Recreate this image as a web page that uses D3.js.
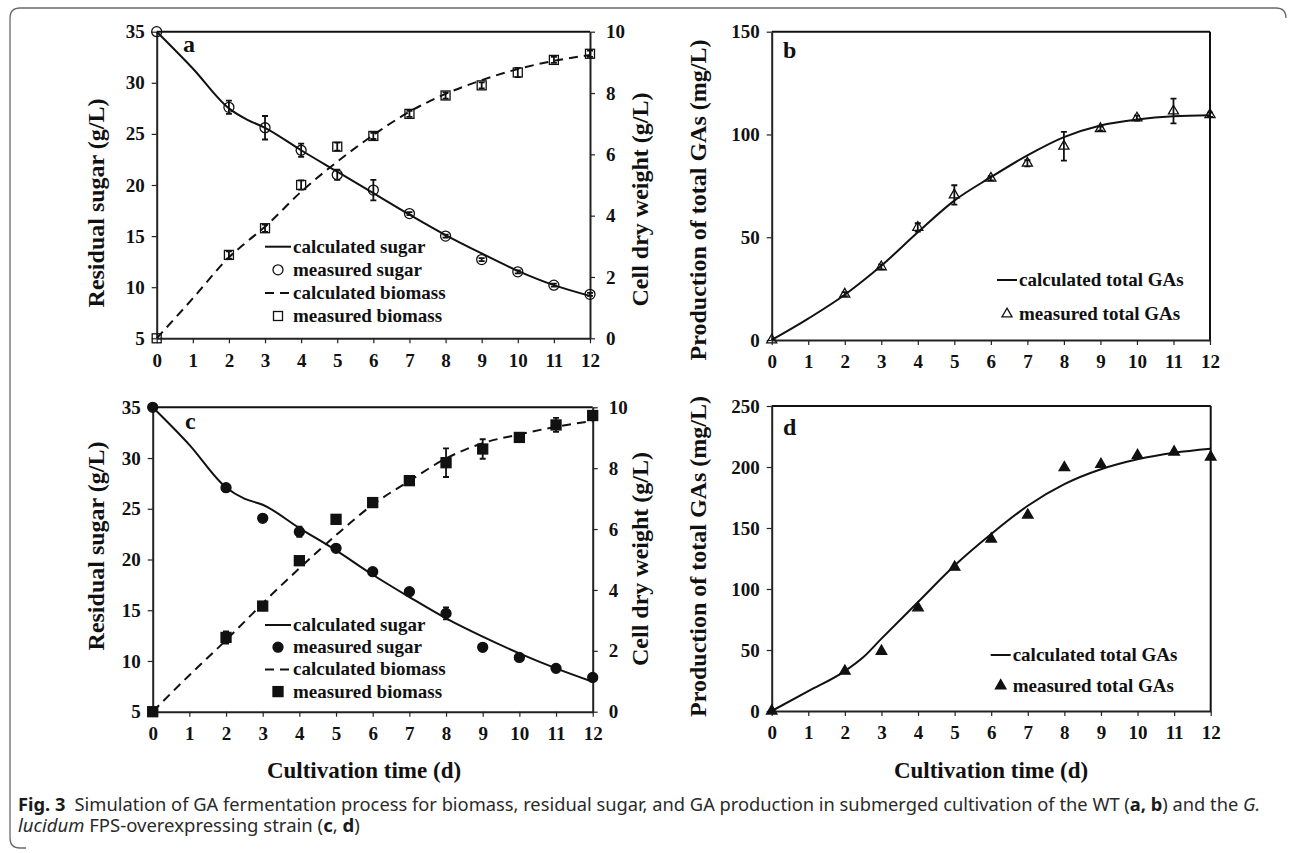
<!DOCTYPE html>
<html>
<head>
<meta charset="utf-8">
<script src="https://cdn.jsdelivr.net/npm/d3@7"></script>
<style>
body { margin: 0; background: #fff; }
svg text { font-family: "Liberation Serif", "Times New Roman", serif; font-weight: bold; fill: #111; }
svg .tick text { font-size: 19px; }
svg .cap text { font-family: "Noto Sans", "Open Sans", sans-serif; font-weight: normal; fill: #2a2a2a; font-size: 17.5px; }
</style>
</head>
<body>
<svg id="fig"></svg>
<script>
// sampling days
const days = [0, 2, 3, 4, 5, 6, 7, 8, 9, 10, 11, 12]
const fitDays = [0, 1, 2, 2.5, 3, 4, 5, 6, 7, 8, 9, 10, 11, 12]
const dayTicks = [0, 1, 2, 3, 4, 5, 6, 7, 8, 9, 10, 11, 12]

// WT (a, b)
const sugarWT = [35, 27.6, 25.6, 23.4, 21.0, 19.5, 17.2, 15.0, 12.7, 11.5, 10.2, 9.3]
const sugarWTErr = [0, 0.65, 1.15, 0.65, 0.5, 1.0, 0.15, 0.15, 0.15, 0.15, 0.15, 0.15]
const biomassWT = [0, 2.72, 3.59, 5.0, 6.25, 6.6, 7.32, 7.92, 8.25, 8.67, 9.08, 9.28]
const biomassWTErr = [0, 0.12, 0.12, 0.15, 0.13, 0.1, 0.1, 0.1, 0.1, 0.15, 0.1, 0.1]
const sugarWTFit = [35, 31.4, 27.5, 26.4, 25.6, 23.4, 21.3, 19.2, 17.1, 15.1, 13.3, 11.6, 10.2, 9.15]
const biomassWTFit = [0, 1.3, 2.64, 3.15, 3.64, 4.78, 5.76, 6.63, 7.39, 7.97, 8.42, 8.78, 9.05, 9.24]
const gaWT = [0, 22.3, 35.6, 54.8, 70.6, 78.7, 86.0, 94.3, 102.8, 108.0, 111.4, 109.6]
const gaWTErr = [0, 1, 1.2, 2, 4.7, 1, 1.5, 7, 1, 1.2, 6, 1]
const gaWTFit = [0, 10.4, 22, 28.8, 36.1, 52.4, 67.8, 79.2, 89.8, 98.7, 104.4, 107.3, 108.9, 109.4]

// FPS-overexpressing strain (c, d)
const sugarFPS = [35, 27.08, 24.06, 22.74, 21.1, 18.8, 16.83, 14.69, 11.34, 10.35, 9.27, 8.38]
const sugarFPSErr = [0, 0.2, 0.2, 0.5, 0.2, 0.15, 0.15, 0.6, 0.15, 0.15, 0.15, 0.15]
const biomassFPS = [0, 2.44, 3.47, 4.96, 6.32, 6.87, 7.59, 8.18, 8.63, 9.01, 9.42, 9.73]
const biomassFPSErr = [0, 0.2, 0.1, 0.1, 0.1, 0.1, 0.1, 0.47, 0.32, 0.1, 0.23, 0.1]
const sugarFPSFit = [35, 31.3, 27.1, 26.0, 25.4, 23.1, 20.9, 18.5, 16.3, 14.2, 12.4, 10.75, 9.27, 7.95]
const biomassFPSFit = [0, 1.2, 2.35, 2.95, 3.56, 4.71, 5.8, 6.8, 7.58, 8.32, 8.82, 9.11, 9.36, 9.55]
const gaFPS = [0, 32.7, 49, 84.6, 117.9, 141, 160.6, 199.5, 202.2, 209.6, 212.3, 208.2]
const gaFPSFit = [0, 16.3, 32.7, 44, 59.3, 89.3, 119.2, 145, 168.2, 185.9, 198.1, 206.3, 211.7, 215]

// tick labels
const sugarTicks = [5, 10, 15, 20, 25, 30, 35]
const biomassTicks = [0, 2, 4, 6, 8, 10]
const gaWTTicks = [0, 50, 100, 150]
const gaFPSTicks = [0, 50, 100, 150, 200, 250]

const W = 1292, H = 853

const svg = d3.select('#fig')
    .attr('width', W)
    .attr('height', H)
    .attr('viewBox', `0 0 ${W} ${H}`)

svg.append('rect').attr('width', W).attr('height', H).attr('fill', '#fff')

// figure frame (rounded, open at right/bottom)
svg.append('path')
    .attr('d', 'M1286,18 Q1286,8 1276,8 L20,8 Q10,8 10,18 L10,838 Q10,848 20,848 L26,848')
    .attr('fill', 'none')
    .attr('stroke', '#6a6a6a')
    .attr('stroke-width', 1.3)

const ink = '#111'

function pts(xs, ys) {
    return xs.map((d, i) => [d, ys[i]])
}

function marker(g, shape, filled, cx, cy) {
    const fill = filled ? ink : 'none'
    if (shape == 'circle') {
        g.append('circle').attr('cx', cx).attr('cy', cy).attr('r', 5)
            .attr('fill', fill).attr('stroke', ink).attr('stroke-width', 1.3)
    } else if (shape == 'square') {
        const s = filled ? 10 : 9
        g.append('rect').attr('x', cx - s / 2).attr('y', cy - s / 2).attr('width', s).attr('height', s)
            .attr('fill', fill).attr('stroke', ink).attr('stroke-width', 1.3)
    } else {
        g.append('path').attr('d', d3.symbol(d3.symbolTriangle, filled ? 48 : 44)())
            .attr('transform', `translate(${cx},${cy})`)
            .attr('fill', fill).attr('stroke', ink).attr('stroke-width', 1.3)
    }
}

function drawPanel(p) {
    const g = svg.append('g')

    const x = d3.scaleLinear([0, 12], [p.left, p.right])
    const y = d3.scaleLinear(p.yDomain, [p.bottom, p.top])
    const y2 = p.y2Domain ? d3.scaleLinear(p.y2Domain, [p.bottom, p.top]) : null
    const scaleOf = s => s.axis == 2 ? y2 : y

    // frame lines
    g.append('line').attr('x1', p.left).attr('x2', p.right).attr('y1', p.top).attr('y2', p.top)
        .attr('stroke', ink).attr('stroke-width', 2)
    if (!y2)
        g.append('line').attr('x1', p.right).attr('x2', p.right).attr('y1', p.top).attr('y2', p.bottom)
            .attr('stroke', ink).attr('stroke-width', 2)

    // axes
    const gx = g.append('g').attr('transform', `translate(0,${p.bottom})`)
        .call(d3.axisBottom(x).tickValues(dayTicks).tickSize(5).tickSizeOuter(0).tickPadding(10))
    const gy = g.append('g').attr('transform', `translate(${p.left},0)`)
        .call(d3.axisLeft(y).tickValues(p.yTicks).tickSize(5).tickSizeOuter(0).tickPadding(7))
    const axes = [gx, gy]
    if (y2) {
        axes.push(g.append('g').attr('transform', `translate(${p.right},0)`)
            .call(d3.axisRight(y2).tickValues(p.y2Ticks).tickSize(5).tickSizeOuter(0).tickPadding(11)))
    }
    axes.forEach(a => {
        a.attr('color', '#222')
        a.select('.domain').attr('stroke-width', 2)
        a.selectAll('.tick line').attr('stroke-width', 1.2)
    })

    // fitted curves
    const line = d3.line().curve(d3.curveMonotoneX)
    p.series.forEach(s => {
        const sy = scaleOf(s)
        line.x(d => x(d[0])).y(d => sy(d[1]))
        g.append('path')
            .attr('d', line(pts(fitDays, s.fit)))
            .attr('fill', 'none')
            .attr('stroke', ink)
            .attr('stroke-width', 2)
            .attr('stroke-dasharray', s.dash ? '9,6' : null)
    })

    // error bars + markers
    p.series.forEach(s => {
        const sy = scaleOf(s)
        if (s.err) {
            s.err.forEach((e, i) => {
                if (!e) return
                const cx = x(days[i]), lo = sy(s.values[i] - e), hi = sy(s.values[i] + e)
                g.append('path')
                    .attr('d', `M${cx},${lo}V${hi}M${cx - 3},${lo}H${cx + 3}M${cx - 3},${hi}H${cx + 3}`)
                    .attr('stroke', ink).attr('stroke-width', 1.8).attr('fill', 'none')
            })
        }
        s.values.forEach((v, i) => marker(g, s.shape, s.filled, x(days[i]), sy(v)))
    })

    // legend
    p.series.forEach((s, i) => {
        const ly = p.legend.y + i * p.legend.step * 2
        const ly2 = ly + p.legend.step
        const lx = p.legend.x
        g.append('line').attr('x1', lx).attr('x2', lx + p.legend.w).attr('y1', ly).attr('y2', ly)
            .attr('stroke', ink).attr('stroke-width', 2)
            .attr('stroke-dasharray', s.dash ? '9,6' : null)
        g.append('text').attr('x', lx + p.legend.w + 2).attr('y', ly).attr('dy', '0.32em')
            .attr('font-size', 19).text(s.fitLabel)
        marker(g, s.shape, s.filled, lx + p.legend.w / 2, ly2)
        g.append('text').attr('x', lx + p.legend.w + 2).attr('y', ly2).attr('dy', '0.32em')
            .attr('font-size', 19).text(s.label)
    })

    // panel letter
    g.append('text').attr('x', p.letterX).attr('y', p.letterY).attr('font-size', 24).text(p.letter)

    // axis titles
    g.append('text')
        .attr('transform', `translate(${p.titleX},${p.titleY}) rotate(-90)`)
        .attr('text-anchor', 'middle').attr('dy', '0.35em').attr('font-size', 24)
        .text(p.yTitle)
    if (p.y2Title)
        g.append('text')
            .attr('transform', `translate(${p.title2X},${p.title2Y}) rotate(-90)`)
            .attr('text-anchor', 'middle').attr('dy', '0.35em').attr('font-size', 24)
            .text(p.y2Title)
    g.append('text')
        .attr('x', p.xTitleX).attr('y', p.xTitleY)
        .attr('text-anchor', 'middle').attr('dy', '0.35em').attr('font-size', 23)
        .text(p.xTitle)
}

drawPanel({
    left: 156.7, right: 590, top: 31.7, bottom: 338.3,
    yDomain: [5, 35], yTicks: sugarTicks,
    y2Domain: [0, 10], y2Ticks: biomassTicks,
    series: [
        {values: sugarWT, err: sugarWTErr, fit: sugarWTFit, shape: 'circle', filled: false,
         fitLabel: 'calculated sugar', label: 'measured sugar'},
        {values: biomassWT, err: biomassWTErr, fit: biomassWTFit, shape: 'square', filled: false, dash: true, axis: 2,
         fitLabel: 'calculated biomass', label: 'measured biomass'}
    ],
    legend: {x: 265, y: 246.7, step: 23.1, w: 26},
    letter: 'a', letterX: 183, letterY: 51.7,
    titleX: 96, titleY: 203, yTitle: 'Residual sugar (g/L)',
    title2X: 640, title2Y: 199.5, y2Title: 'Cell dry weight (g/L)',
    xTitle: '', xTitleX: 0, xTitleY: 0
})

drawPanel({
    left: 771.7, right: 1210, top: 31.7, bottom: 340,
    yDomain: [0, 150], yTicks: gaWTTicks,
    series: [
        {values: gaWT, err: gaWTErr, fit: gaWTFit, shape: 'triangle', filled: false,
         fitLabel: 'calculated total GAs', label: 'measured total GAs'}
    ],
    legend: {x: 997, y: 280, step: 34, w: 20},
    letter: 'b', letterX: 783, letterY: 57.7,
    titleX: 698, titleY: 200, yTitle: 'Production of total GAs (mg/L)',
    xTitle: '', xTitleX: 0, xTitleY: 0
})

drawPanel({
    left: 152.7, right: 592.7, top: 407.3, bottom: 711.7,
    yDomain: [5, 35], yTicks: sugarTicks,
    y2Domain: [0, 10], y2Ticks: biomassTicks,
    series: [
        {values: sugarFPS, err: sugarFPSErr, fit: sugarFPSFit, shape: 'circle', filled: true,
         fitLabel: 'calculated sugar', label: 'measured sugar'},
        {values: biomassFPS, err: biomassFPSErr, fit: biomassFPSFit, shape: 'square', filled: true, dash: true, axis: 2,
         fitLabel: 'calculated biomass', label: 'measured biomass'}
    ],
    legend: {x: 265, y: 625, step: 22.2, w: 26},
    letter: 'c', letterX: 185, letterY: 429,
    titleX: 96, titleY: 546, yTitle: 'Residual sugar (g/L)',
    title2X: 640, title2Y: 559, y2Title: 'Cell dry weight (g/L)',
    xTitle: 'Cultivation time (d)', xTitleX: 364, xTitleY: 770
})

drawPanel({
    left: 771.7, right: 1210.7, top: 406, bottom: 711,
    yDomain: [0, 250], yTicks: gaFPSTicks,
    series: [
        {values: gaFPS, fit: gaFPSFit, shape: 'triangle', filled: true,
         fitLabel: 'calculated total GAs', label: 'measured total GAs'}
    ],
    legend: {x: 990.7, y: 655, step: 30.7, w: 20},
    letter: 'd', letterX: 783, letterY: 435,
    titleX: 698, titleY: 556.5, yTitle: 'Production of total GAs (mg/L)',
    xTitle: 'Cultivation time (d)', xTitleX: 991, xTitleY: 770
})

// caption, squeezed to the reference line widths
const cap = svg.append('g').attr('class', 'cap')
const captionLines = [
    {y: 810.5, width: 1243, parts: [
        ['Fig. 3', 'b'], ['\u2002Simulation of GA fermentation process for biomass, residual sugar, and GA production in submerged cultivation of the WT (', ''],
        ['a, b', 'b'], [') and the ', ''], ['G.', 'i']]},
    {y: 832, width: 342, parts: [
        ['lucidum', 'i'], [' FPS-overexpressing strain (', ''], ['c', 'b'], [', ', ''], ['d', 'b'], [')', '']]}
]
captionLines.forEach(l => {
    const t = cap.append('text').attr('x', 0).attr('y', 0).attr('xml:space', 'preserve')
    l.parts.forEach(([s, st]) => {
        const ts = t.append('tspan').text(s)
        if (st == 'b') ts.attr('font-weight', 'bold').style('font-weight', 'bold').style('fill', '#1a1a1a')
        if (st == 'i') ts.style('font-style', 'italic')
    })
    const w = t.node().getComputedTextLength()
    t.attr('transform', `translate(18,${l.y}) scale(${l.width / w},1)`)
})
</script>
</body>
</html>
